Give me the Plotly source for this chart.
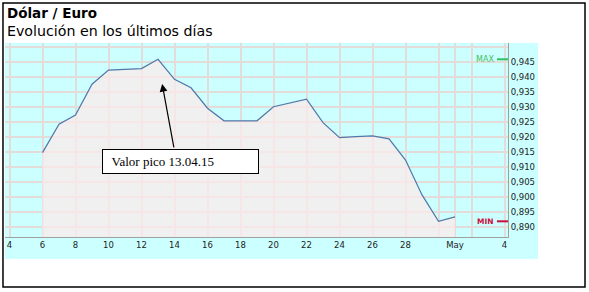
import plotly.graph_objects as go

# ---- data ----
dates = ["2015-04-06", "2015-04-07", "2015-04-08", "2015-04-09", "2015-04-10",
         "2015-04-11", "2015-04-12", "2015-04-13", "2015-04-14", "2015-04-15",
         "2015-04-16", "2015-04-17", "2015-04-18", "2015-04-19", "2015-04-20",
         "2015-04-21", "2015-04-22", "2015-04-23", "2015-04-24", "2015-04-25",
         "2015-04-26", "2015-04-27", "2015-04-28", "2015-04-29", "2015-04-30",
         "2015-05-01"]
values = [0.9148, 0.9243, 0.9273, 0.9376, 0.9423,
          0.9426, 0.9428, 0.9459, 0.9392, 0.9364,
          0.9296, 0.9254, 0.9254, 0.9254, 0.9301,
          0.9314, 0.9326, 0.9248, 0.9198, 0.9201,
          0.9204, 0.9194, 0.9123, 0.9007, 0.8919,
          0.8934]

x_tick_vals = ["2015-04-04", "2015-04-06", "2015-04-08", "2015-04-10", "2015-04-12",
               "2015-04-14", "2015-04-16", "2015-04-18", "2015-04-20", "2015-04-22",
               "2015-04-24", "2015-04-26", "2015-04-28", "2015-05-01", "2015-05-04"]
x_tick_text = ["4", "6", "8", "10", "12", "14", "16", "18", "20", "22",
               "24", "26", "28", "May", "4"]
x_minor_grid = ["2015-04-30", "2015-05-02"]

y_tick_vals = [0.890, 0.895, 0.900, 0.905, 0.910, 0.915, 0.920,
               0.925, 0.930, 0.935, 0.940, 0.945]
y_tick_text = ["0,890", "0,895", "0,900", "0,905", "0,910", "0,915", "0,920",
               "0,925", "0,930", "0,935", "0,940", "0,945"]
y_minor_grid = [0.950]

title_text = "Dólar / Euro"
subtitle_text = "Evolución en los últimos días"
note_text = "Valor pico 13.04.15"
note_point_date = "2015-04-13 06:00"
note_point_value = 0.9377

# ---- style ----
CYAN = "#ccffff"
GRID = "#e4dcd8"
LINE = "#4f78a8"
FILL = "rgba(252,235,235,0.75)"
AXIS = "#a0a0a0"
TICKFONT = dict(family="DejaVu Sans", size=8.5, color="#222222")

fig = go.Figure()
fig.add_trace(go.Scatter(
    x=dates, y=values, mode="lines", fill="tozeroy", fillcolor=FILL,
    line=dict(color=LINE, width=1.2), hoverinfo="skip", showlegend=False,
))

vmax = max(values)
vmin = min(values)

fig.update_layout(
    width=589, height=292,
    margin=dict(l=5, r=81, t=43, b=55, pad=0),
    paper_bgcolor="white", plot_bgcolor=CYAN,
    showlegend=False,
    xaxis=dict(
        type="date", range=["2015-04-03 17:27", "2015-05-04 05:02"],
        tickmode="array", tickvals=x_tick_vals, ticktext=x_tick_text,
        showgrid=True, gridcolor=GRID, gridwidth=1.5, ticks="",
        showline=True, linecolor=AXIS, linewidth=1, zeroline=False,
        tickfont=TICKFONT,
        minor=dict(tickmode="array", tickvals=x_minor_grid, showgrid=True,
                   gridcolor=GRID, gridwidth=1.5, ticks=""),
    ),
    yaxis=dict(
        range=[0.88667, 0.95133], side="right",
        tickmode="array", tickvals=y_tick_vals, ticktext=y_tick_text,
        showgrid=True, gridcolor=GRID, gridwidth=1.5, ticks="",
        showline=True, linecolor=AXIS, linewidth=1, zeroline=False,
        tickfont=TICKFONT,
        minor=dict(tickmode="array", tickvals=y_minor_grid, showgrid=True,
                   gridcolor=GRID, gridwidth=1.5, ticks=""),
    ),
)

shapes = [
    # cyan panel behind everything
    dict(type="rect", xref="paper", yref="paper", x0=0, x1=1.0596, y0=-0.1134, y1=1,
         fillcolor=CYAN, line=dict(width=0), layer="below"),
    # outer black frame
    dict(type="rect", xref="paper", yref="paper", x0=-0.004, x1=1.1531, y0=-0.2577, y1=1.2062,
         fillcolor="rgba(0,0,0,0)", line=dict(color="black", width=1.5), layer="above"),
    # MAX / MIN markers
    dict(type="line", xref="paper", yref="y", x0=0.978, x1=1.0, y0=vmax, y1=vmax,
         line=dict(color="#33c060", width=2)),
    dict(type="line", xref="paper", yref="y", x0=0.978, x1=1.0, y0=vmin, y1=vmin,
         line=dict(color="#c8103a", width=2)),
]
fig.update_layout(shapes=shapes)

annotations = [
    dict(text="<b>" + title_text + "</b>", xref="paper", yref="paper", x=0, y=1.1546,
         xanchor="left", yanchor="middle", showarrow=False,
         font=dict(family="DejaVu Sans", size=13.5, color="black")),
    dict(text=subtitle_text, xref="paper", yref="paper", x=0, y=1.0644,
         xanchor="left", yanchor="middle", showarrow=False,
         font=dict(family="DejaVu Sans", size=14.2, color="black")),
    dict(text="MAX", xref="paper", yref="y", x=0.976, y=vmax, xanchor="right",
         yanchor="middle", showarrow=False,
         font=dict(family="DejaVu Sans", size=8, color="#44c060")),
    dict(text="<b>MIN</b>", xref="paper", yref="y", x=0.976, y=vmin, xanchor="right",
         yanchor="middle", showarrow=False,
         font=dict(family="DejaVu Sans", size=7.5, color="#c8103a")),
    # arrow
    dict(text="", x=note_point_date, y=note_point_value, xref="x", yref="y",
         showarrow=True, arrowhead=2, arrowsize=1.3, arrowwidth=1.2, arrowcolor="black",
         ax=12, ay=65, standoff=0),
    # note box
    dict(text="\u00a0\u00a0" + note_text, x="2015-04-14 08:40", y=0.9118, xref="x", yref="y",
         showarrow=False, xanchor="center", yanchor="middle", align="left",
         width=151, height=19, borderpad=2, borderwidth=1, bordercolor="black",
         bgcolor="white",
         font=dict(family="Liberation Serif", size=13, color="black")),
]
fig.update_layout(annotations=annotations)

fig.write_html("out.html")
